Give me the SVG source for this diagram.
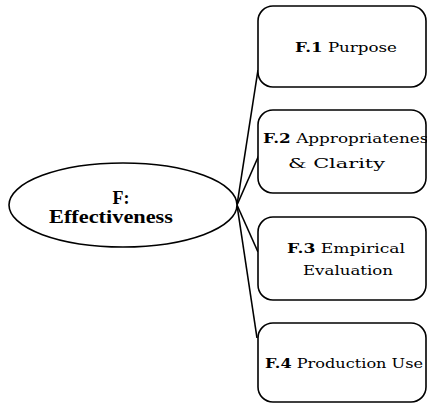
<svg xmlns="http://www.w3.org/2000/svg" width="427" height="404" viewBox="0 0 427 404">
<style>
.box{fill:#fff;stroke:#000;stroke-width:1.6}
.conn{fill:none;stroke:#000;stroke-width:1.6}
.t{font-family:"DejaVu Serif","Liberation Serif",serif;font-size:12px;fill:#000}
.b{font-weight:bold}
.et{font-family:"Liberation Serif","DejaVu Serif",serif;font-weight:bold;fill:#000;text-anchor:middle}
</style>
<rect width="427" height="404" fill="#fff"/>
<g id="connectors">
<path class="conn" d="M237,205 L258,70"/>
<path class="conn" d="M237,205 L259,155"/>
<path class="conn" d="M237,205 L258,252"/>
<path class="conn" d="M237,205 L257,338"/>
</g>
<g id="root">
<ellipse class="box" cx="123" cy="205" rx="114" ry="42"/>
<text class="et" x="121" y="204" font-size="18">F:</text>
<text class="et" x="111" y="223" font-size="18" textLength="124" lengthAdjust="spacingAndGlyphs">Effectiveness</text>
</g>
<g id="f1">
<rect class="box" x="258" y="6" width="168" height="81" rx="15"/>
<text class="t" x="295" y="52" textLength="102" lengthAdjust="spacingAndGlyphs"><tspan class="b">F.1</tspan> Purpose</text>
</g>
<g id="f2">
<rect class="box" x="258" y="110" width="168" height="83" rx="15"/>
<text class="t" x="263" y="143" textLength="174" lengthAdjust="spacingAndGlyphs"><tspan class="b">F.2</tspan> Appropriateness</text>
<text class="t" x="288" y="168" textLength="97" lengthAdjust="spacingAndGlyphs">&amp; Clarity</text>
</g>
<g id="f3">
<rect class="box" x="258" y="217" width="168" height="83" rx="15"/>
<text class="t" x="287" y="253" textLength="118" lengthAdjust="spacingAndGlyphs"><tspan class="b">F.3</tspan> Empirical</text>
<text class="t" x="303" y="275" textLength="90" lengthAdjust="spacingAndGlyphs">Evaluation</text>
</g>
<g id="f4">
<rect class="box" x="258" y="323" width="168" height="79" rx="15"/>
<text class="t" x="265" y="368" textLength="158" lengthAdjust="spacingAndGlyphs"><tspan class="b">F.4</tspan> Production Use</text>
</g>
</svg>
